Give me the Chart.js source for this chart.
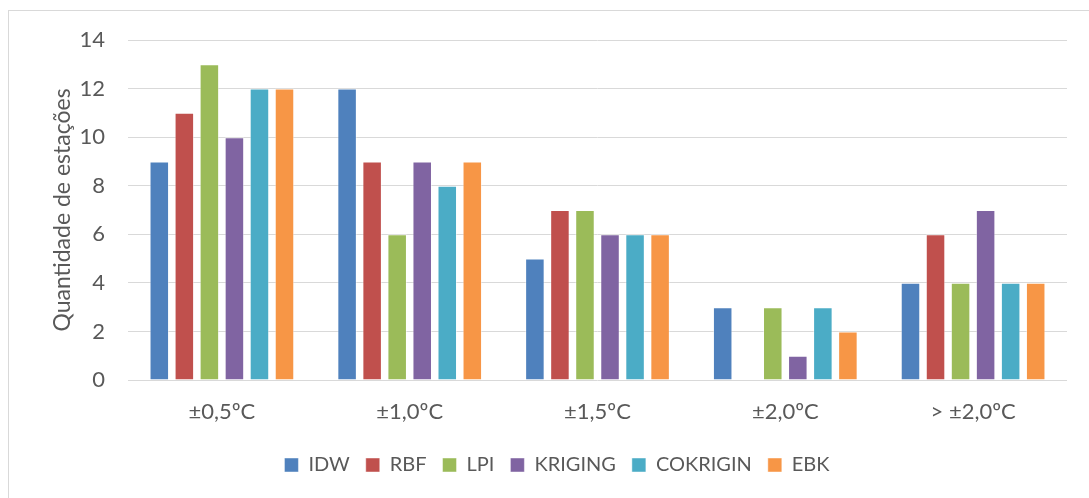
<!DOCTYPE html>
<html>
<head>
<meta charset="utf-8">
<script src="https://cdn.jsdelivr.net/npm/chart.js@4.4.0/dist/chart.umd.min.js"></script>
<style>
  html, body { margin: 0; padding: 0; width: 1089px; height: 498px; overflow: hidden; background: #fff; }
  #frame { position: absolute; left: 8px; top: 10px; width: 2000px; height: 2000px; border: 1px solid #d9d9d9; box-sizing: border-box; }
  #wrap { position: absolute; left: 8px; top: 10px; width: 1098px; height: 475px; }
</style>
</head>
<body>
<div id="frame"></div>
<div id="wrap"><canvas id="c"></canvas></div>
<script>
const categories = ['±0,5ºC', '±1,0ºC', '±1,5ºC', '±2,0ºC', '> ±2,0ºC'];
const seriesNames = ['IDW', 'RBF', 'LPI', 'KRIGING', 'COKRIGIN', 'EBK'];
const IDW      = [9, 12, 5, 3, 4];
const RBF      = [11, 9, 7, 0, 6];
const LPI      = [13, 6, 7, 3, 4];
const KRIGING  = [10, 9, 6, 1, 7];
const COKRIGIN = [12, 8, 6, 3, 4];
const EBK      = [12, 9, 6, 2, 4];
const yTicks = [0, 2, 4, 6, 8, 10, 12, 14];
const colors = ['#4F81BD', '#C0504D', '#9BBB59', '#8064A2', '#4BACC6', '#F79646'];
const values = [IDW, RBF, LPI, KRIGING, COKRIGIN, EBK];

const FONT = 'Lato';
const TXT = '#595959';

new Chart(document.getElementById('c'), {
  type: 'bar',
  data: {
    labels: categories,
    datasets: seriesNames.map((n, i) => ({
      label: n,
      data: values[i],
      backgroundColor: colors[i],
      borderColor: 'rgba(255,255,255,0.45)',
      borderWidth: 1,
      categoryPercentage: 0.8,
      barPercentage: 0.78
    }))
  },
  options: {
    responsive: true,
    maintainAspectRatio: false,
    animation: false,
    layout: { padding: { left: 39, right: 39, top: 30, bottom: 0 } },
    plugins: {
      tooltip: { enabled: false },
      legend: {
        position: 'bottom',
        labels: {
          font: { family: FONT, size: 20 },
          color: TXT,
          boxWidth: 14,
          boxHeight: 14,
          padding: 16
        }
      }
    },
    scales: {
      x: {
        grid: { display: false, drawTicks: false },
        border: { display: false },
        ticks: { font: { family: FONT, size: 22 }, color: TXT, padding: 19 },
        afterFit: s => { s.height = 59; }
      },
      y: {
        min: 0, max: 14,
        afterBuildTicks: s => { s.ticks = yTicks.map(v => ({ value: v })); },
        grid: { color: '#d9d9d9', lineWidth: 1, drawTicks: true, tickLength: 23, tickColor: 'rgba(0,0,0,0)' },
        border: { display: false },
        ticks: { font: { family: FONT, size: 22 }, color: TXT, padding: 0 },
        title: {
          display: true,
          text: 'Quantidade de estações',
          font: { family: FONT, size: 23 },
          color: TXT,
          padding: { top: 2, bottom: 4 }
        },
        afterFit: s => { s.width = 81; }
      }
    }
  }
});
</script>
</body>
</html>
